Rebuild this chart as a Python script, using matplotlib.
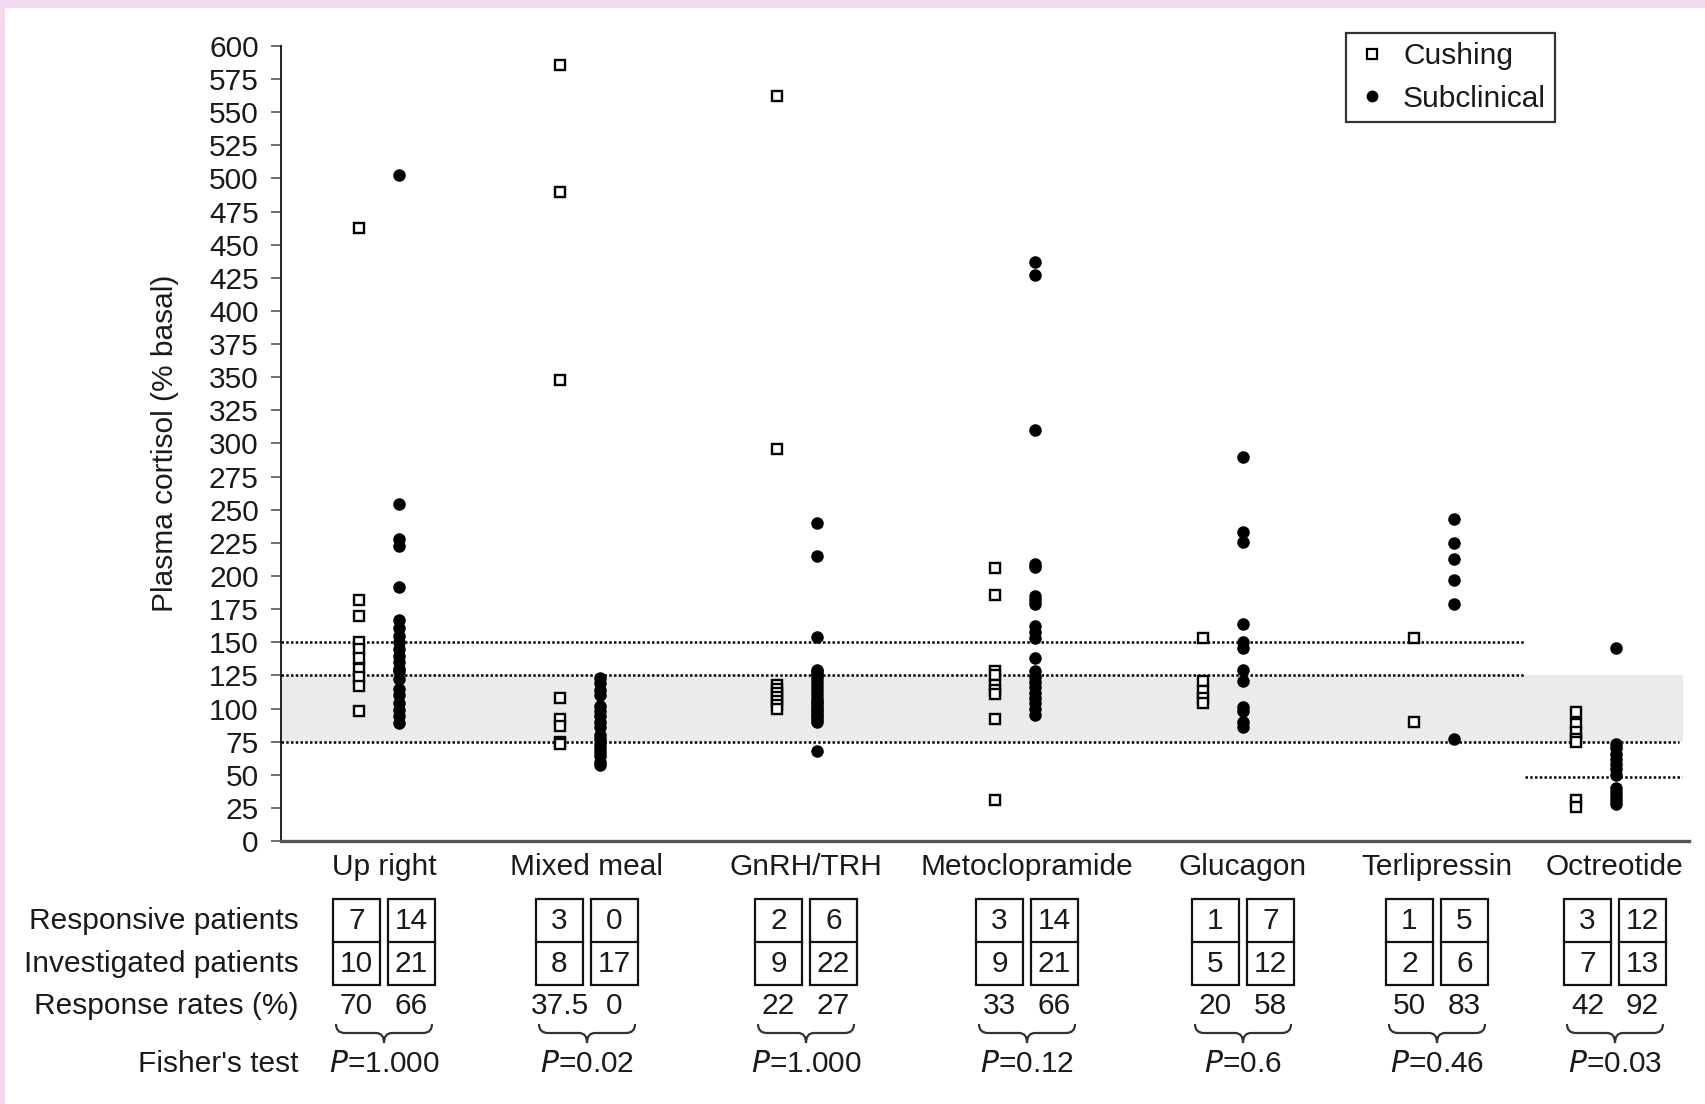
import numpy as np
import matplotlib
matplotlib.use("Agg")
import matplotlib.pyplot as plt
from matplotlib.path import Path
from matplotlib.patches import PathPatch, Rectangle
from matplotlib.transforms import blended_transform_factory
from matplotlib.lines import Line2D

W, H = 1706, 1104
plt.rcParams['font.family'] = ['Liberation Sans', 'DejaVu Sans']
FS = 21.5
TXT = '#1a1a1a'

# ---------------- data ----------------
groups = ["Up right", "Mixed meal", "GnRH/TRH", "Metoclopramide",
          "Glucagon", "Terlipressin", "Octreotide"]

upright_cushing = [463, 182, 170, 150, 145, 138, 130, 124, 117, 98]
upright_subclinical = [503, 254, 228, 223, 192, 167, 161, 155, 150, 145, 140,
                       135, 130, 128, 122, 115, 110, 104, 99, 94, 89]
meal_cushing = [586, 490, 348, 108, 92, 87, 75, 73]
meal_subclinical = [123, 119, 114, 110, 102, 98, 94, 90, 86, 80, 77, 73, 70,
                    67, 64, 60, 57]
gnrh_cushing = [562, 296, 118, 115, 112, 109, 106, 103, 100]
gnrh_subclinical = [240, 215, 154, 129, 128, 126, 123, 120, 117, 114, 111, 108,
                    106, 104, 102, 100, 98, 96, 94, 92, 90, 68]
meto_cushing = [206, 186, 128, 125, 118, 114, 111, 92, 31]
meto_subclinical = [437, 427, 310, 209, 207, 185, 182, 179, 162, 158, 153, 138,
                    128, 124, 120, 116, 112, 108, 104, 100, 95]
glucagon_cushing = [153, 121, 113, 108, 104]
glucagon_subclinical = [290, 233, 226, 164, 150, 146, 129, 121, 101, 98, 90, 86]
terli_cushing = [153, 90]
terli_subclinical = [243, 225, 213, 197, 179, 77]
octreo_cushing = [97, 88, 82, 77, 75, 31, 26]
octreo_subclinical = [146, 73, 70, 66, 62, 58, 54, 50, 40, 37, 34, 31, 28]

cushing_sets = [upright_cushing, meal_cushing, gnrh_cushing, meto_cushing,
                glucagon_cushing, terli_cushing, octreo_cushing]
subclinical_sets = [upright_subclinical, meal_subclinical, gnrh_subclinical,
                    meto_subclinical, glucagon_subclinical, terli_subclinical,
                    octreo_subclinical]

responsive_cushing = [7, 3, 2, 3, 1, 1, 3]
responsive_subclinical = [14, 0, 6, 14, 7, 5, 12]
investigated_cushing = [10, 8, 9, 9, 5, 2, 7]
investigated_subclinical = [21, 17, 22, 21, 12, 6, 13]
rate_cushing = ["70", "37.5", "22", "33", "20", "50", "42"]
rate_subclinical = ["66", "0", "27", "66", "58", "83", "92"]
p_values = ["1.000", "0.02", "1.000", "0.12", "0.6", "0.46", "0.03"]

row_labels = ["Responsive patients", "Investigated patients",
              "Response rates (%)", "Fisher's test"]
yticks = list(range(0, 601, 25))
normal_low, normal_high = 75, 125
upper_cut = 150
octreo_cut = 48

# ---------------- layout ----------------
point_x = [379, 580, 797, 1015, 1223, 1434, 1596]
pair_off = 20
table_x = [384, 587, 806, 1027, 1243, 1437, 1615]
col_off = 27.5
box_w = 47

fig = plt.figure(figsize=(W / 100, H / 100), dpi=100)
fig.patch.set_facecolor('white')

def fy(py):
    return 1 - py / H

# pink frame strips
fig.patches.append(Rectangle((0, fy(8)), 1, 8 / H, transform=fig.transFigure,
                             facecolor='#F4D8EE', edgecolor='none', zorder=0))
fig.patches.append(Rectangle((0, 0), 5 / W, 1, transform=fig.transFigure,
                             facecolor='#F4D8EE', edgecolor='none', zorder=0))

ax = fig.add_axes([281 / W, fy(841), (1689 - 281) / W, (841 - 46) / H])
ax.set_xlim(281, 1689)
ax.set_ylim(0, 600)
ax.set_yticks(yticks)
ax.set_xticks([])
for s in ['top', 'right']:
    ax.spines[s].set_visible(False)
ax.spines['left'].set_linewidth(1.3)
ax.spines['left'].set_color('#111111')
ax.spines['bottom'].set_linewidth(2.4)
ax.spines['bottom'].set_color('#555555')
ax.tick_params(axis='y', length=7, width=1.2, color='#555555',
               labelsize=FS, pad=9, labelcolor=TXT)

# normal band and reference lines
ax.axhspan(normal_low, normal_high, xmin=0, xmax=(1683 - 281) / (1689 - 281),
           facecolor='#EBEBEB', edgecolor='none', zorder=0)
dot = (0, (1, 0.9))
ax.hlines(upper_cut, 281, 1524, colors='black', linestyles=dot, lw=1.8, zorder=1)
ax.hlines(normal_high, 281, 1524, colors='black', linestyles=dot, lw=1.8, zorder=1)
ax.hlines(normal_low, 281, 1679, colors='black', linestyles=dot, lw=1.8, zorder=1)
ax.hlines(octreo_cut, 1525, 1682, colors='black', linestyles=dot, lw=1.8, zorder=1)

for i in range(len(groups)):
    c = cushing_sets[i]
    s = subclinical_sets[i]
    ax.plot(np.full(len(c), point_x[i] - pair_off), c, linestyle='none',
            marker='s', ms=7.8, mfc='white', mec='black', mew=1.7, zorder=3)
    ax.plot(np.full(len(s), point_x[i] + pair_off), s, linestyle='none',
            marker='o', ms=8, mfc='black', mec='black', zorder=3)

# y label
fig.text(165 / W, fy(443), "Plasma cortisol (% basal)", rotation=90,
         ha='center', va='center', fontsize=FS, color=TXT)

# legend
handles = [Line2D([], [], linestyle='none', marker='s', ms=6.5, mfc='white',
                  mec='black', mew=1.6),
           Line2D([], [], linestyle='none', marker='o', ms=7.5, mfc='black',
                  mec='black')]
leg = ax.legend(handles, ["Cushing", "Subclinical"], loc='upper right',
                bbox_to_anchor=(1555 / W, fy(33)), bbox_transform=fig.transFigure,
                borderaxespad=0, fontsize=FS, frameon=True, fancybox=False,
                edgecolor='black', handlelength=1.1, handletextpad=0.5,
                borderpad=0.3, labelspacing=0.5)
leg.get_frame().set_linewidth(1.6)
for t in leg.get_texts():
    t.set_color(TXT)

# table below the axes
tr = blended_transform_factory(ax.transData, fig.transFigure)
tf = fig.transFigure

for i, g in enumerate(groups):
    cx = table_x[i]
    fig.text(cx, fy(867), g, transform=tr, ha='center', va='center',
             fontsize=FS, color=TXT)
    for off, top, bot, rate in [(-col_off, responsive_cushing[i],
                                 investigated_cushing[i], rate_cushing[i]),
                                (col_off, responsive_subclinical[i],
                                 investigated_subclinical[i], rate_subclinical[i])]:
        bx = cx + off
        fig.patches.append(Rectangle((bx - box_w / 2, fy(985)), box_w,
                                     (985 - 899) / H, transform=tr,
                                     facecolor='none', edgecolor='#111111',
                                     lw=1.6))
        fig.lines.append(Line2D([bx - box_w / 2, bx + box_w / 2],
                                [fy(942), fy(942)], transform=tr,
                                color='#111111', lw=1.6))
        fig.text(bx, fy(921), str(top), transform=tr, ha='center',
                 va='center', fontsize=FS, color=TXT)
        fig.text(bx, fy(964), str(bot), transform=tr, ha='center',
                 va='center', fontsize=FS, color=TXT)
        fig.text(bx, fy(1006), rate, transform=tr, ha='center',
                 va='center', fontsize=FS, color=TXT)
    # brace
    hw = 48
    yt, ym, yb = fy(1024), fy(1033), fy(1043)
    verts = [(cx - hw, yt), (cx - hw, ym), (cx - hw + 9, ym),
             (cx - 8, ym), (cx, ym), (cx, yb),
             (cx, ym), (cx + 8, ym),
             (cx + hw - 9, ym), (cx + hw, ym), (cx + hw, yt)]
    codes = [Path.MOVETO, Path.CURVE3, Path.CURVE3,
             Path.LINETO, Path.CURVE3, Path.CURVE3,
             Path.CURVE3, Path.CURVE3,
             Path.LINETO, Path.CURVE3, Path.CURVE3]
    fig.patches.append(PathPatch(Path(verts, codes), transform=tr,
                                 facecolor='none', edgecolor='#333333', lw=1.6))
    fig.text(cx, fy(1064), r"$\it{P}$" + "=" + p_values[i], transform=tr,
             ha='center', va='center', fontsize=FS, color=TXT)

for lab, py in zip(row_labels, [921, 964, 1006, 1064]):
    fig.text(299 / W, fy(py), lab, transform=tf, ha='right', va='center',
             fontsize=FS, color=TXT)

fig.savefig("out.png", dpi=100, facecolor='white')
